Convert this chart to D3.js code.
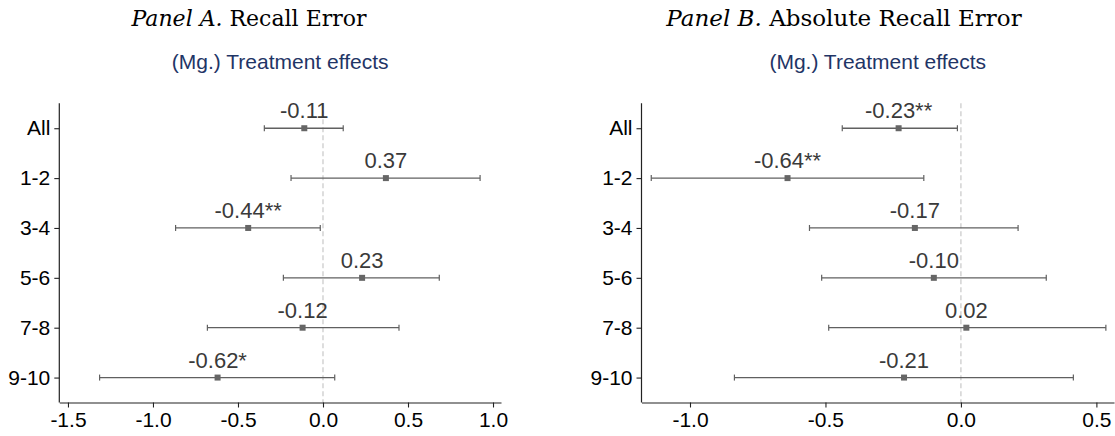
<!DOCTYPE html>
<html>
<head>
<meta charset="utf-8">
<script src="https://cdn.jsdelivr.net/npm/d3@7"></script>
<style>
  html, body { margin: 0; padding: 0; background: #fff; }
  svg { display: block; }
</style>
</head>
<body>
<svg id="chart" width="1115" height="436"></svg>
<script>
// ---- Data ----
const categories = ["All", "1-2", "3-4", "5-6", "7-8", "9-10"];

const estA   = [-0.11, 0.37, -0.44, 0.23, -0.12, -0.62];
const lowA   = [-0.345, -0.188, -0.867, -0.233, -0.680, -1.314];
const highA  = [0.119, 0.924, -0.016, 0.684, 0.447, 0.069];
const labelsA = ["-0.11", "0.37", "-0.44**", "0.23", "-0.12", "-0.62*"];
const ticksA = [-1.5, -1.0, -0.5, 0.0, 0.5, 1.0];

const estB   = [-0.23, -0.64, -0.17, -0.10, 0.02, -0.21];
const lowB   = [-0.438, -1.143, -0.559, -0.514, -0.488, -0.836];
const highB  = [-0.013, -0.137, 0.211, 0.315, 0.535, 0.415];
const labelsB = ["-0.23**", "-0.64**", "-0.17", "-0.10", "0.02", "-0.21"];
const ticksB = [-1.0, -0.5, 0.0, 0.5];

const titleA = ["Panel A.", " Recall Error"];
const titleB = ["Panel B.", " Absolute Recall Error"];
const subtitle = "(Mg.) Treatment effects";

// ---- Layout ----
const svg = d3.select("#chart");
const plotTop = 103.3, plotBottom = 402.5;

const panels = [
  { est: estA, low: lowA, high: highA, labels: labelsA, ticks: ticksA, title: titleA,
    domain: [-1.551, 1.047], range: [59.3, 501], titleX: 249, titleSize: 22 },
  { est: estB, low: lowB, high: highB, labels: labelsB, ticks: ticksB, title: titleB,
    domain: [-1.179, 0.565], range: [641.5, 1114], titleX: 844, titleSize: 23 }
];

const sans = "'Liberation Sans', Arial, sans-serif";
const lineColor = "#606060";

panels.forEach(p => {
  const x = d3.scaleLinear().domain(p.domain).range(p.range);
  const y = d3.scalePoint().domain(categories).range([plotTop, plotBottom]).padding(0.5);
  const g = svg.append("g");

  // titles
  const t = g.append("text")
    .attr("x", p.titleX).attr("y", 26)
    .attr("text-anchor", "middle")
    .style("font-family", "'DejaVu Serif', 'Liberation Serif', serif")
    .style("font-size", p.titleSize + "px")
    .attr("fill", "#000");
  t.append("tspan").style("font-style", "italic").text(p.title[0]);
  t.append("tspan").text(p.title[1]);

  g.append("text")
    .attr("x", (p.range[0] + p.range[1]) / 2).attr("y", 69)
    .attr("text-anchor", "middle")
    .style("font-family", sans).style("font-size", "21px")
    .attr("fill", "#1f3566")
    .text(subtitle);

  // zero reference line
  g.append("line")
    .attr("x1", x(0)).attr("x2", x(0))
    .attr("y1", plotTop).attr("y2", plotBottom)
    .attr("stroke", "#c8c8c8").attr("stroke-width", 1.2)
    .attr("stroke-dasharray", "5,3");

  // axes
  const xAxis = d3.axisBottom(x).tickValues(p.ticks)
    .tickFormat(d => d.toFixed(1)).tickSize(5).tickSizeOuter(0).tickPadding(5);
  const gx = g.append("g").attr("transform", `translate(0,${plotBottom})`).call(xAxis);
  gx.select(".domain").attr("stroke", "#222").attr("stroke-width", 1.2);
  gx.selectAll(".tick line").attr("stroke", "#222").attr("stroke-width", 1.1);
  gx.selectAll("text").style("font-family", sans).style("font-size", "21px").attr("fill", "#000");

  const yAxis = d3.axisLeft(y).tickSize(5).tickSizeOuter(0).tickPadding(4);
  const gy = g.append("g").attr("transform", `translate(${p.range[0]},0)`).call(yAxis);
  gy.select(".domain").attr("d", `M0,${plotTop}V${plotBottom}`).attr("stroke", "#222").attr("stroke-width", 1.2);
  gy.selectAll(".tick line").attr("stroke", "#222").attr("stroke-width", 1.1);
  gy.selectAll("text").style("font-family", sans).style("font-size", "21px").attr("fill", "#000");

  // error bars
  const rows = categories.map((c, i) => ({ c, est: p.est[i], lo: p.low[i], hi: p.high[i], lab: p.labels[i] }));
  const eg = g.append("g");
  eg.selectAll("line.ci").data(rows).join("line").attr("class", "ci")
    .attr("x1", d => x(d.lo)).attr("x2", d => x(d.hi))
    .attr("y1", d => y(d.c)).attr("y2", d => y(d.c))
    .attr("stroke", lineColor).attr("stroke-width", 1.3);
  eg.selectAll("line.capl").data(rows).join("line").attr("class", "capl")
    .attr("x1", d => x(d.lo)).attr("x2", d => x(d.lo))
    .attr("y1", d => y(d.c) - 3).attr("y2", d => y(d.c) + 3)
    .attr("stroke", lineColor).attr("stroke-width", 1.2);
  eg.selectAll("line.caph").data(rows).join("line").attr("class", "caph")
    .attr("x1", d => x(d.hi)).attr("x2", d => x(d.hi))
    .attr("y1", d => y(d.c) - 3).attr("y2", d => y(d.c) + 3)
    .attr("stroke", lineColor).attr("stroke-width", 1.2);
  eg.selectAll("rect").data(rows).join("rect")
    .attr("x", d => x(d.est) - 3).attr("y", d => y(d.c) - 3)
    .attr("width", 6).attr("height", 6)
    .attr("fill", "#666");
  eg.selectAll("text").data(rows).join("text")
    .attr("x", d => x(d.est)).attr("y", d => y(d.c) - 10)
    .attr("text-anchor", "middle")
    .style("font-family", sans).style("font-size", "22px")
    .attr("fill", "#3a3a3a")
    .text(d => d.lab);
});
</script>
</body>
</html>
